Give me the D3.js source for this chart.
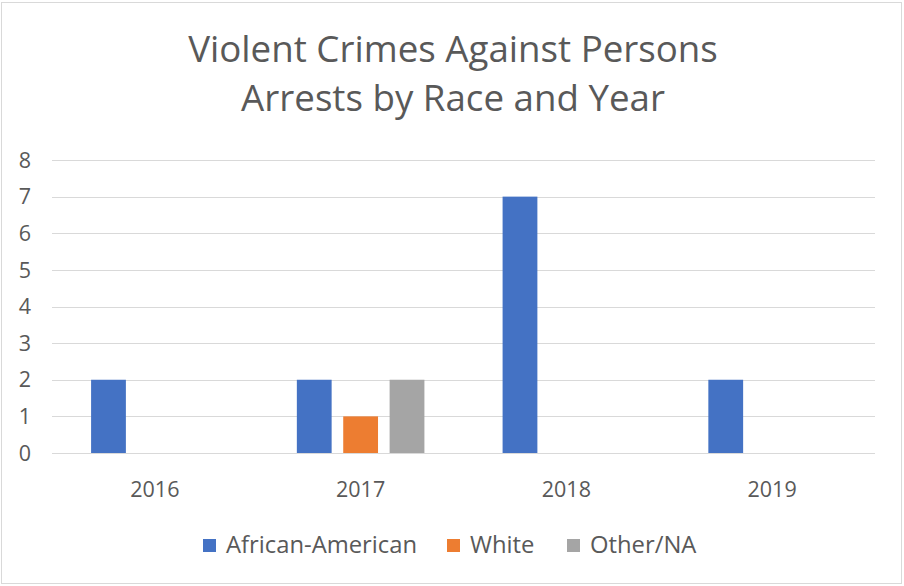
<!DOCTYPE html>
<html><head><meta charset="utf-8">
<script src="https://cdn.jsdelivr.net/npm/d3@7"></script>
<style>body{margin:0;background:#fff}svg{display:block}text{font-family:"Open Sans","Noto Sans",sans-serif;fill:#595959}</style>
</head><body>
<svg id="c" width="904" height="586"></svg>
<script>
const years = ["2016","2017","2018","2019"];
const seriesNames = ["African-American","White","Other/NA"];
const africanAmerican = [2,2,7,2];
const white = [0,1,0,0];
const otherNA = [0,2,0,0];
const colors = ["#4472C4","#ED7D31","#A5A5A5"];
const yTicks = [0,1,2,3,4,5,6,7,8];
const titleLines = ["Violent Crimes Against Persons","Arrests by Race and Year"];

const values = [africanAmerican, white, otherNA];
const svg = d3.select("#c");
svg.append("rect").attr("x",1.5).attr("y",2.5).attr("width",900).attr("height",581)
  .attr("fill","#fff").attr("stroke","#d9d9d9");

const x = d3.scaleBand().domain(years).range([52,875]).paddingInner(0.38).paddingOuter(0.19);
const xs = d3.scaleBand().domain(seriesNames).range([0,x.bandwidth()]).paddingInner(0.25);
const y = d3.scaleLinear().domain([0,8]).range([453,160]);

// gridlines
svg.append("g").selectAll("line").data(yTicks).join("line")
  .attr("x1",52).attr("x2",875).attr("y1",d=>Math.round(y(d))+0.5).attr("y2",d=>Math.round(y(d))+0.5)
  .attr("stroke","#d9d9d9").attr("stroke-width",1);

// y labels
svg.append("g").selectAll("text").data(yTicks).join("text")
  .attr("x",31).attr("y",d=>y(d)).attr("dy","0.36em").attr("text-anchor","end")
  .attr("font-size",21.5).text(d=>d);

// bars
seriesNames.forEach((s,i)=>{
  svg.append("g").selectAll("rect").data(years.map((yr,j)=>({yr,v:values[i][j]})).filter(d=>d.v>0)).join("rect")
    .attr("x",d=>x(d.yr)+xs(s)).attr("width",xs.bandwidth())
    .attr("y",d=>y(d.v)).attr("height",d=>y(0)-y(d.v)).attr("fill",colors[i]);
});

// x labels
svg.append("g").selectAll("text").data(years).join("text")
  .attr("x",d=>x(d)+x.bandwidth()/2).attr("y",497).attr("text-anchor","middle")
  .attr("font-size",21.5).text(d=>d);

// title
const t = svg.append("g");
const tl = t.selectAll("text").data(titleLines).join("text")
  .attr("x",453).attr("y",(d,i)=>62+i*49).attr("text-anchor","middle")
  .attr("font-size",33).text(d=>d);
const w0 = tl.nodes()[0].getComputedTextLength();
tl.attr("font-size",33*530/w0);

// legend
const legendX = [203,447,567];
const lg = svg.append("g");
seriesNames.forEach((s,i)=>{
  lg.append("rect").attr("x",legendX[i]).attr("y",539).attr("width",13).attr("height",13).attr("fill",colors[i]);
  lg.append("text").attr("x",legendX[i]+23).attr("y",553).attr("font-size",23.8).text(s);
});
</script>
</body></html>
